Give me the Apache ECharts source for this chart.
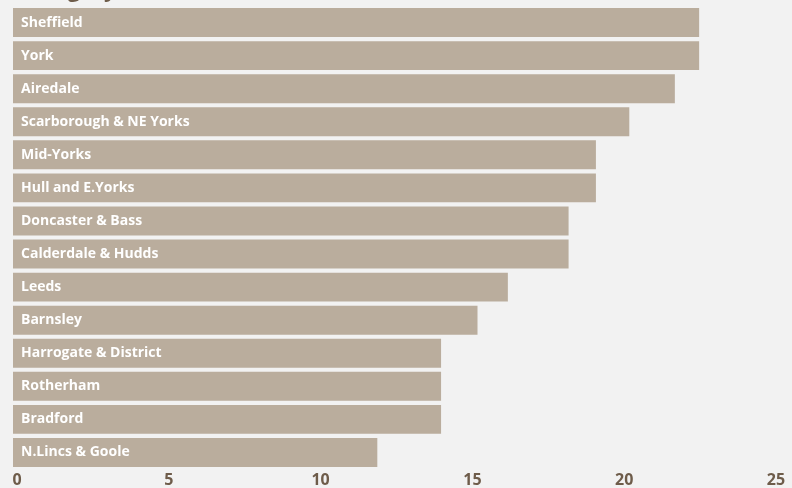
<!DOCTYPE html>
<html><head><meta charset="utf-8">
<script src="https://cdn.jsdelivr.net/npm/echarts@6/dist/echarts.min.js"></script>
<style>html,body{margin:0;padding:0;background:#f2f2f2}#c{width:792px;height:488px}</style>
</head><body><div id="c"></div>
<script>
var titleText = 'Category';
var categories = ['Sheffield','York','Airedale','Scarborough & NE Yorks','Mid-Yorks','Hull and E.Yorks','Doncaster & Bass','Calderdale & Hudds','Leeds','Barnsley','Harrogate & District','Rotherham','Bradford','N.Lincs & Goole'];
var values = [22.6,22.6,21.8,20.3,19.2,19.2,18.3,18.3,16.3,15.3,14.1,14.1,14.1,12.0];
var xTicks = [0,5,10,15,20,25];

var chart = echarts.init(document.getElementById('c'), null, {renderer:'canvas'});
chart.setOption({
  backgroundColor:'#f2f2f2',
  animation:false,
  title:{text:titleText,left:13,top:-25,textStyle:{fontFamily:'Open Sans',fontWeight:'bold',fontSize:22,color:'#6e5c4a'}},
  grid:{left:13,right:20,top:6,bottom:18,containLabel:false},
  xAxis:{type:'value',min:xTicks[0],max:xTicks[xTicks.length-1],interval:5,
    splitLine:{show:false},axisLine:{show:false},axisTick:{show:false},
    axisLabel:{show:true,margin:3,padding:[0,0,0,8],color:'#6e5c4a',fontFamily:'Open Sans',fontWeight:'bold',fontSize:16}},
  yAxis:{type:'category',data:categories,inverse:true,show:false},
  series:[{type:'bar',data:values,barCategoryGap:'12.5%',
    itemStyle:{color:'#baad9d'},
    label:{show:true,position:'insideLeft',formatter:'{b}',distance:8,color:'#ffffff',fontFamily:'Open Sans',fontWeight:'bold',fontSize:14}}]
});
</script></body></html>
